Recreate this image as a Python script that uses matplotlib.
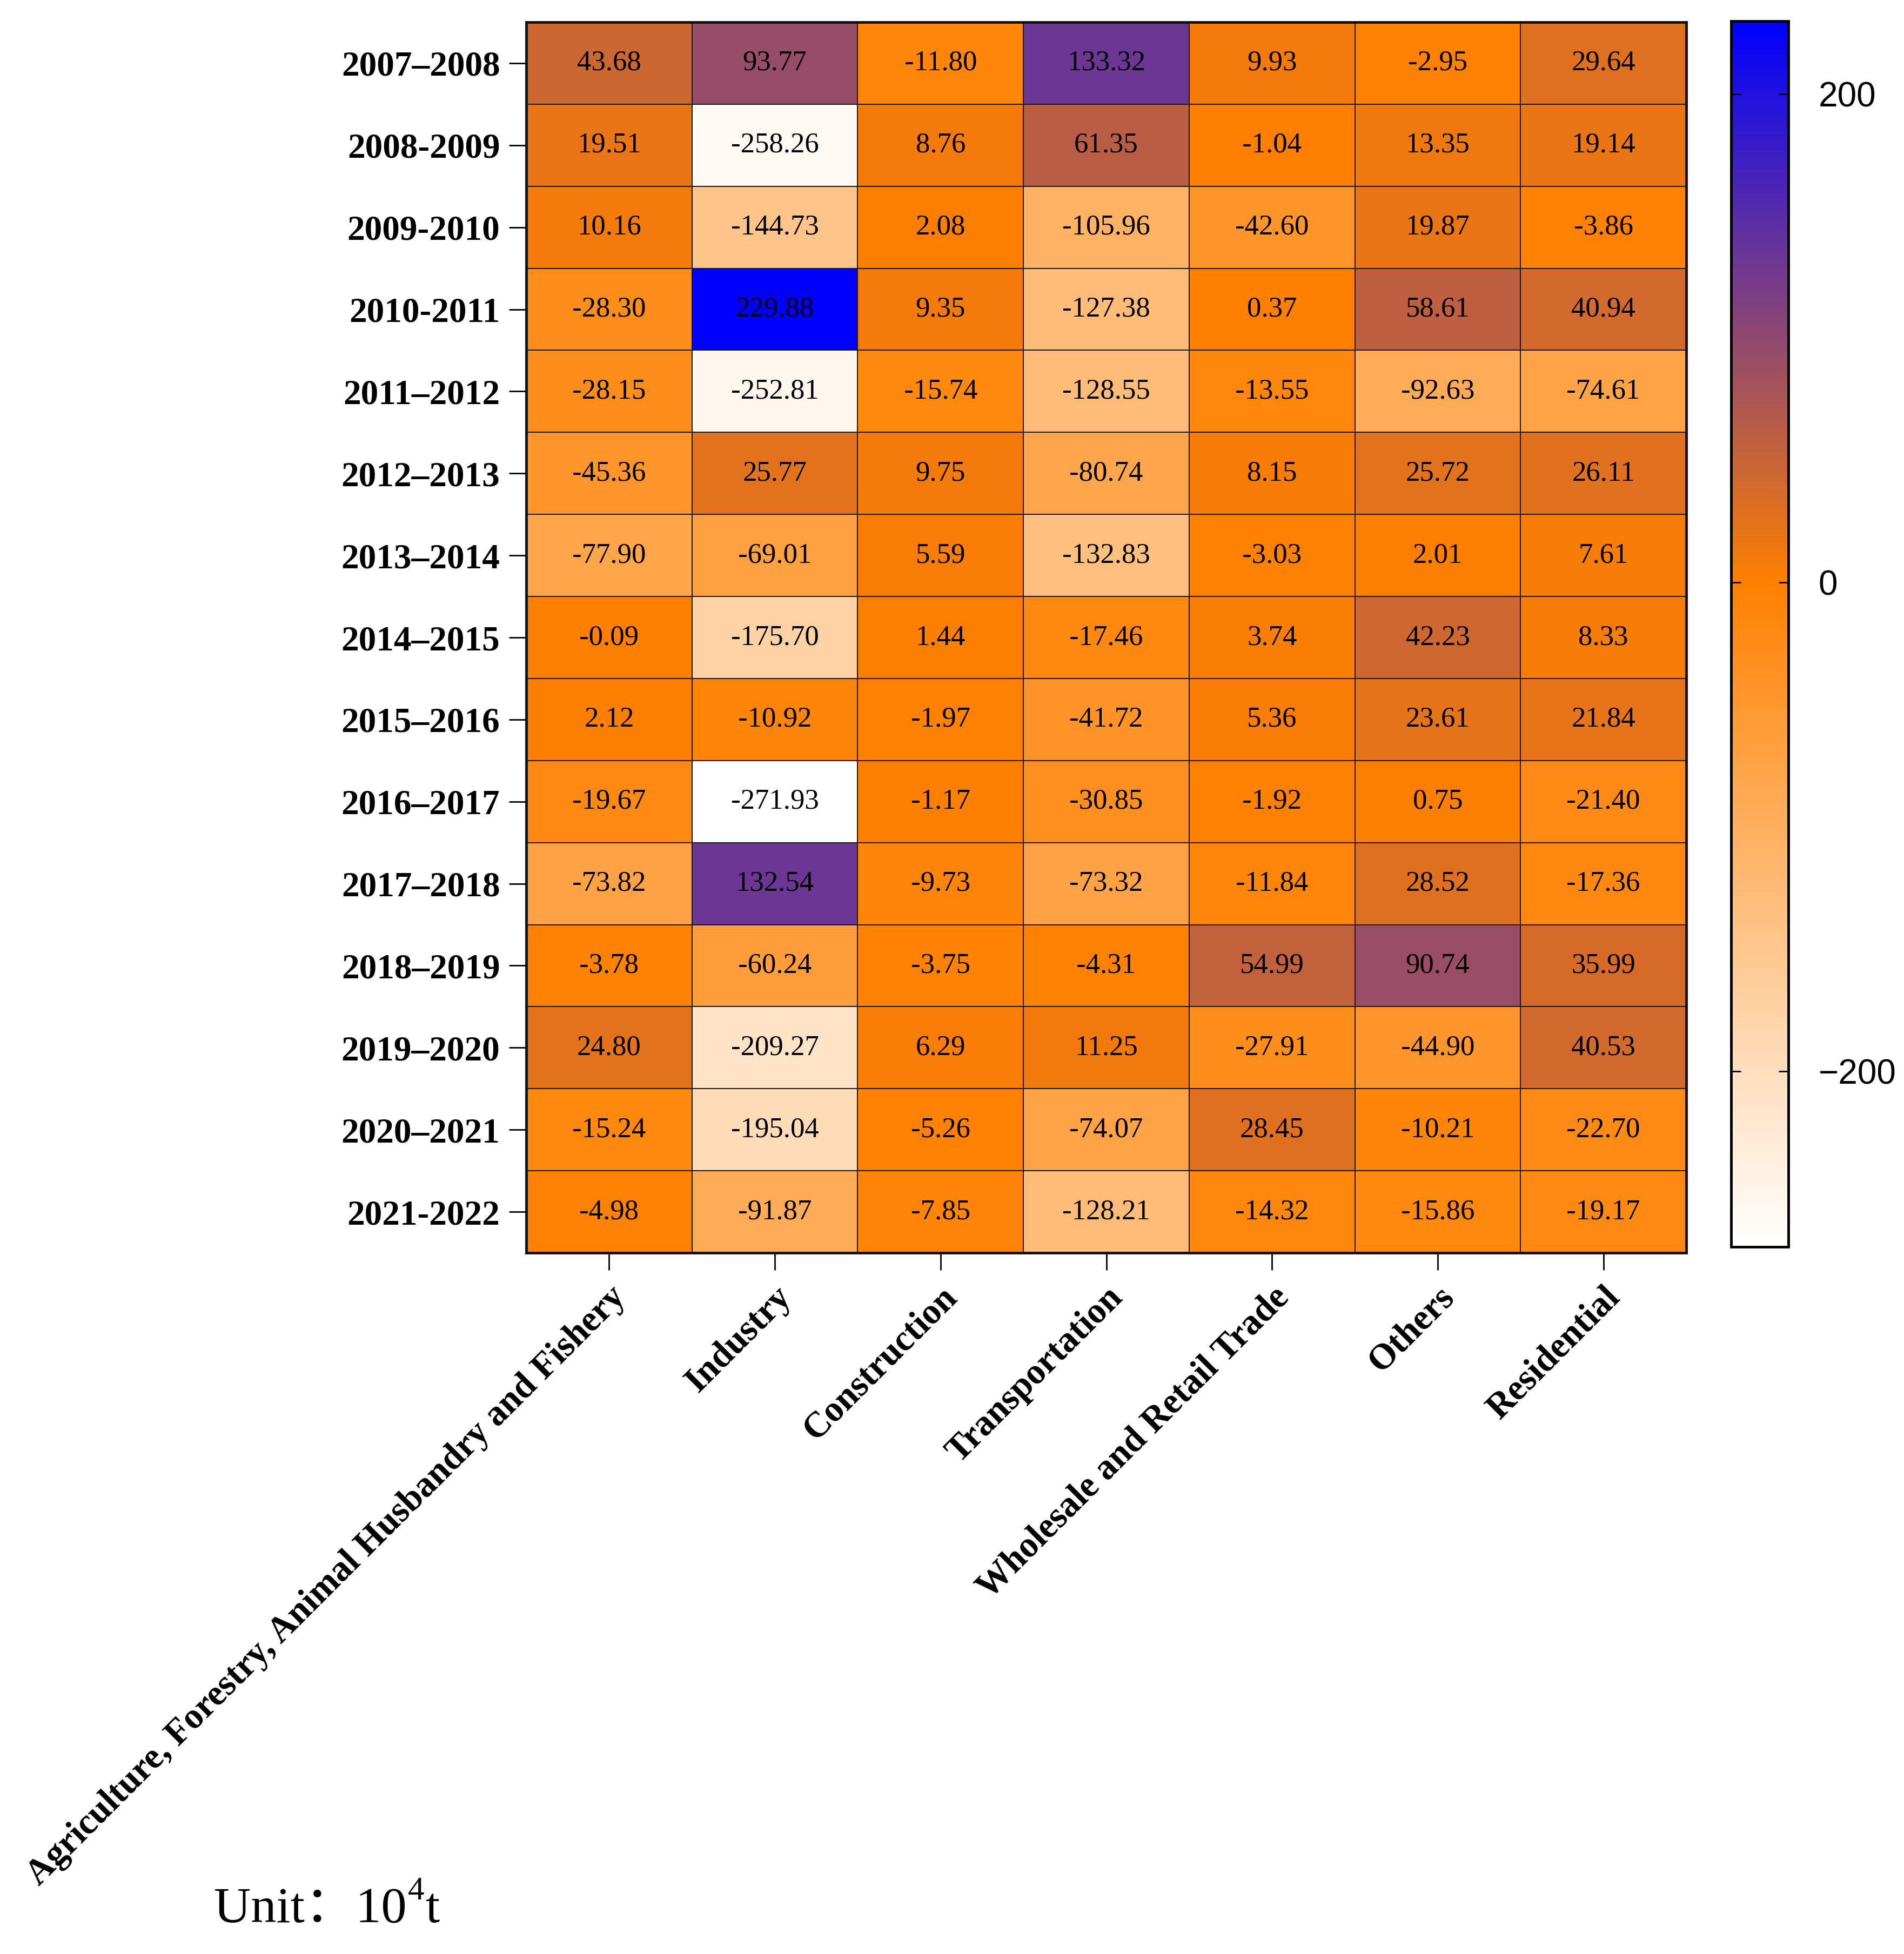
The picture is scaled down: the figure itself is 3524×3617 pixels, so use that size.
import numpy as np
import matplotlib
matplotlib.use("Agg")
import matplotlib.pyplot as plt
from matplotlib.colors import LinearSegmentedColormap, Normalize

periods = ["2007–2008", "2008-2009", "2009-2010", "2010-2011", "2011–2012",
           "2012–2013", "2013–2014", "2014–2015", "2015–2016", "2016–2017",
           "2017–2018", "2018–2019", "2019–2020", "2020–2021", "2021-2022"]
sectors = ["Agriculture, Forestry, Animal Husbandry and Fishery", "Industry",
           "Construction", "Transportation", "Wholesale and Retail Trade",
           "Others", "Residential"]

agriculture = [43.68, 19.51, 10.16, -28.30, -28.15, -45.36, -77.90, -0.09, 2.12, -19.67, -73.82, -3.78, 24.80, -15.24, -4.98]
industry = [93.77, -258.26, -144.73, 229.88, -252.81, 25.77, -69.01, -175.70, -10.92, -271.93, 132.54, -60.24, -209.27, -195.04, -91.87]
construction = [-11.80, 8.76, 2.08, 9.35, -15.74, 9.75, 5.59, 1.44, -1.97, -1.17, -9.73, -3.75, 6.29, -5.26, -7.85]
transportation = [133.32, 61.35, -105.96, -127.38, -128.55, -80.74, -132.83, -17.46, -41.72, -30.85, -73.32, -4.31, 11.25, -74.07, -128.21]
wholesale = [9.93, -1.04, -42.60, 0.37, -13.55, 8.15, -3.03, 3.74, 5.36, -1.92, -11.84, 54.99, -27.91, 28.45, -14.32]
others = [-2.95, 13.35, 19.87, 58.61, -92.63, 25.72, 2.01, 42.23, 23.61, 0.75, 28.52, 90.74, -44.90, -10.21, -15.86]
residential = [29.64, 19.14, -3.86, 40.94, -74.61, 26.11, 7.61, 8.33, 21.84, -21.40, -17.36, 35.99, 40.53, -22.70, -19.17]

cbar_ticks = [-200, 0, 200]

data = np.array([agriculture, industry, construction, transportation,
                 wholesale, others, residential]).T

vmin, vmax = data.min(), data.max()
zero_pos = (0 - vmin) / (vmax - vmin)
cmap = LinearSegmentedColormap.from_list(
    "wob", [(0.0, "#FFFFFF"), (zero_pos, "#FF8000"), (1.0, "#0000FF")])
norm = Normalize(vmin=vmin, vmax=vmax)

serif = ["Liberation Serif", "DejaVu Serif"]
W, H = 3524, 3617
fig = plt.figure(figsize=(W / 100, H / 100), dpi=100)

ax = fig.add_axes([974 / W, 1 - 2319 / H, (3121 - 974) / W, (2319 - 41) / H])
nr, nc = data.shape
mesh = ax.pcolormesh(np.arange(nc + 1), np.arange(nr + 1), data, cmap=cmap,
                     norm=norm, edgecolors="#1a1a1a", linewidth=1.3)
ax.set_xlim(0, nc)
ax.set_ylim(nr, 0)

for i in range(nr):
    for j in range(nc):
        ax.text(j + 0.5, i + 0.5, f"{data[i, j]:.2f}", ha="center", va="center",
                fontsize=38, family=serif, color="black")

ax.set_yticks(np.arange(nr) + 0.5)
ax.set_yticklabels(periods, fontsize=47, fontweight="bold", family=serif)
ax.set_xticks(np.arange(nc) + 0.5)
ax.set_xticklabels(sectors, fontsize=48, fontweight="bold", family=serif,
                   rotation=45, ha="right", va="top", rotation_mode="anchor")
ax.tick_params(axis="both", direction="out", length=23, width=2, color="black")
ax.tick_params(axis="y", pad=12)
ax.tick_params(axis="x", pad=14)
for sp in ax.spines.values():
    sp.set_linewidth(3.5)
    sp.set_color("#111111")

cax = fig.add_axes([3204 / W, 1 - 2308 / H, (3310 - 3204) / W, (2308 - 39) / H])
cb = fig.colorbar(mesh, cax=cax, ticks=cbar_ticks)
cb.outline.set_linewidth(3.5)
cax.tick_params(axis="y", direction="in", left=True, right=True, length=13,
                width=2, labelsize=46, pad=40)
for lab in cax.get_yticklabels():
    lab.set_family(["Liberation Sans", "DejaVu Sans"])

y_base = 1 - 3558 / H
t1 = fig.text(396 / W, y_base, "Unit：10", fontsize=68,
              family=["Liberation Serif", "Noto Sans CJK SC"], va="baseline", ha="left")
fig.canvas.draw()
r = fig.canvas.get_renderer()
inv = fig.transFigure.inverted()
x1, _ = inv.transform((t1.get_window_extent(r).x1, 0))
t2 = fig.text(x1 + 2 / W, y_base + 42 / H, "4", fontsize=44, family=serif,
              va="baseline", ha="left")
fig.canvas.draw()
x2, _ = inv.transform((t2.get_window_extent(r).x1, 0))
fig.text(x2 + 2 / W, y_base, "t", fontsize=68, family=serif, va="baseline", ha="left")

fig.savefig("out.png", dpi=100, facecolor="white")
